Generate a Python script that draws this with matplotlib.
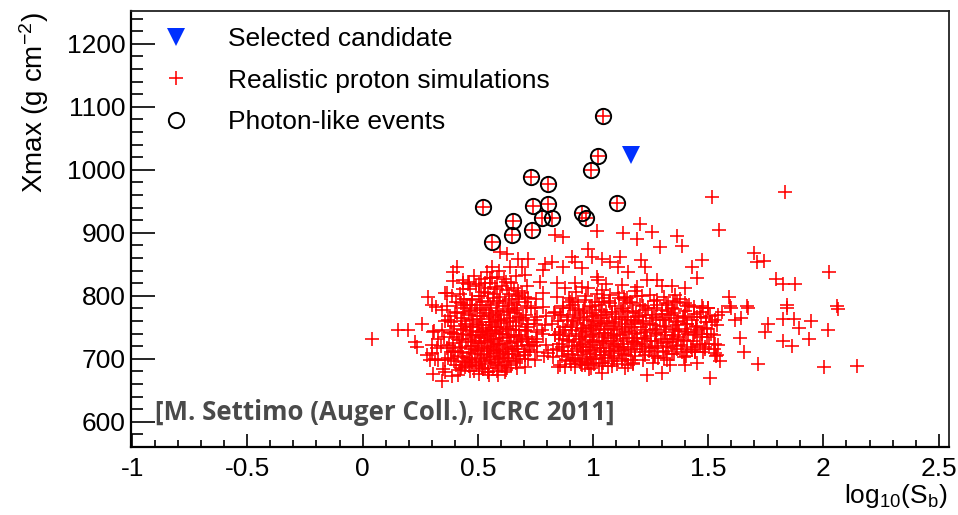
import matplotlib
matplotlib.use("Agg")
import matplotlib.pyplot as plt
from matplotlib.ticker import MultipleLocator

plt.rcParams["font.family"] = ["Liberation Sans", "DejaVu Sans"]
plt.rcParams["mathtext.default"] = "regular"

# Selected candidate event
cand_x = [1.164]
cand_y = [1024]

# Photon-like events (each also a proton simulation)
photon_x = [1.045, 1.023, 0.990, 0.730, 0.805, 0.521, 0.741, 0.806, 1.105,
            0.780, 0.821, 0.951, 0.970, 0.654, 0.649, 0.734, 0.563]
photon_y = [1086, 1022, 1000, 989, 977, 941, 942, 946, 947,
            924, 923, 932, 923, 919, 896, 905, 886]

# Proton simulations: outer / sparse events
sparse_x = [1.516, 1.545, 1.833, 1.698, 1.710, 1.743, 2.025, 1.794, 1.826, 1.876,
            1.590, 1.594, 1.669, 1.843, 2.057, 2.062, 1.840, 1.674, 1.599, 1.558,
            1.616, 1.642, 1.761, 1.746, 1.826, 1.873, 1.894, 1.946, 2.021, 1.638,
            1.826, 1.865, 1.938, 1.656, 1.717, 2.002, 1.537, 1.551, 2.145,
            1.204, 1.131, 1.255, 1.190, 1.016, 1.363, 1.291, 1.388, 1.117, 1.038,
            1.074, 1.208, 1.226, 1.153, 1.110, 1.472, 1.428, 1.450, 1.233, 1.276,
            1.341, 1.399, 1.190, 1.124, 1.298, 1.356, 1.247, 1.190, 1.399, 1.472,
            1.327, 1.276, 1.146, 1.074, 1.038, 1.023,
            0.835, 0.871, 0.980, 0.994, 0.908, 0.922, 0.871, 0.951, 0.792, 0.821,
            0.784, 0.719, 0.676, 0.626, 0.597, 0.640, 0.691, 0.705, 0.770, 0.843,
            0.784, 0.843, 0.922, 0.951, 0.879, 1.016, 0.908, 0.965, 0.561, 0.531,
            0.575,
            0.392, 0.409, 0.437, 0.459, 0.365, 0.283, 0.300, 0.365, 0.437, 0.466,
            0.040, 0.155, 0.199, 0.257, 0.445, 0.228, 0.235, 0.279, 0.300, 0.322,
            0.293, 0.329, 0.358, 0.346, 0.416, 0.307, 0.344, 0.329, 0.372, 0.380,
            0.365, 0.401, 0.372, 0.430, 0.466, 0.445,
            0.748, 0.835, 0.871, 0.922, 0.777, 0.857, 0.871, 0.806, 0.828, 0.849,
            0.879, 0.922, 0.951, 0.980, 0.705, 0.727, 0.712, 0.734, 0.756, 0.669,
            0.618, 0.589, 0.546, 0.517,
            1.233, 1.298, 1.399, 1.450, 1.508, 1.038, 1.334, 1.320, 1.283, 1.153,
            1.139, 1.175, 1.385, 1.428, 1.479, 1.529, 1.529, 1.472, 1.443, 1.399,
            1.370, 1.341, 1.320, 1.276, 1.247, 1.226, 1.190, 1.363, 1.399, 1.312,
            1.276, 1.255, 1.197, 1.464, 1.515, 1.500, 1.341, 1.298]
sparse_y = [956, 905, 965, 868, 854, 855, 838, 827, 818, 819,
            798, 783, 783, 785, 784, 779, 781, 780, 781, 774,
            761, 765, 756, 743, 763, 763, 749, 760, 746, 733,
            728, 721, 732, 711, 692, 687, 706, 696, 688,
            914, 900, 902, 890, 903, 895, 878, 879, 862, 858,
            854, 857, 845, 838, 845, 857, 845, 828, 825, 825,
            815, 812, 814, 817, 815, 801, 801, 799, 789, 783,
            785, 793, 796, 801, 809, 825,
            896, 893, 875, 862, 862, 854, 846, 844, 851, 854,
            841, 859, 859, 867, 870, 846, 846, 833, 822, 820,
            804, 798, 820, 814, 812, 830, 793, 793, 828, 820,
            814,
            838, 845, 825, 818, 804, 798, 785, 783, 785, 785,
            732, 746, 746, 756, 780, 727, 719, 706, 709, 717,
            698, 698, 679, 664, 674, 743, 746, 732, 761, 743,
            717, 711, 701, 690, 698, 687,
            761, 775, 780, 777, 746, 743, 732, 709, 703, 687,
            687, 698, 690, 693, 706, 714, 732, 727, 727, 685,
            679, 674, 679, 685,
            674, 677, 690, 693, 670, 677, 690, 698, 701, 690,
            685, 693, 711, 714, 711, 709, 724, 740, 743, 748,
            735, 732, 727, 717, 719, 732, 724, 754, 764, 761,
            746, 764, 767, 775, 759, 780, 780, 777]

# Proton simulations: low-S_b core
core_a_x = [0.384, 0.373, 0.389, 0.378,
            0.404, 0.393, 0.409, 0.398, 0.406,
            0.424, 0.413, 0.429, 0.418, 0.426, 0.411, 0.421,
            0.444, 0.433, 0.449, 0.438, 0.446, 0.431, 0.441, 0.435,
            0.464, 0.453, 0.469, 0.458, 0.466, 0.451, 0.461, 0.455, 0.468,
            0.484, 0.473, 0.489, 0.478, 0.486, 0.471, 0.481, 0.475, 0.488, 0.477, 0.485,
            0.504, 0.493, 0.509, 0.498, 0.506, 0.491, 0.501, 0.495, 0.508, 0.497, 0.505, 0.492,
            0.524, 0.513, 0.529, 0.518, 0.526, 0.511, 0.521, 0.515, 0.528, 0.517, 0.525, 0.512,
            0.544, 0.533, 0.549, 0.538, 0.546, 0.531, 0.541, 0.535, 0.548, 0.537, 0.545, 0.532, 0.542,
            0.564, 0.553, 0.569, 0.558, 0.566, 0.551, 0.561, 0.555, 0.568, 0.557, 0.565, 0.552, 0.562,
            0.584, 0.573, 0.589, 0.578, 0.586, 0.571, 0.581, 0.575, 0.588, 0.577, 0.585, 0.572, 0.582,
            0.604, 0.593, 0.609, 0.598, 0.606, 0.591, 0.601, 0.595, 0.608, 0.597, 0.605, 0.592,
            0.624, 0.613, 0.629, 0.618, 0.626, 0.611, 0.621, 0.615, 0.628, 0.617, 0.625, 0.612,
            0.644, 0.633, 0.649, 0.638, 0.646, 0.631, 0.641, 0.635, 0.648, 0.637, 0.645,
            0.664, 0.653, 0.669, 0.658, 0.666, 0.651, 0.661, 0.655, 0.668, 0.657,
            0.684, 0.673, 0.689, 0.678, 0.686, 0.671, 0.681, 0.675,
            0.704, 0.693, 0.709, 0.698, 0.706, 0.691,
            0.724, 0.713, 0.729, 0.718]
core_a_y = [700, 722, 741, 768,
            690, 712, 735, 752, 790,
            683, 705, 718, 730, 748, 772, 803,
            695, 710, 726, 739, 756, 765, 795, 820,
            688, 702, 715, 731, 744, 752, 770, 786, 810,
            680, 694, 708, 720, 729, 738, 750, 762, 778, 795, 832,
            676, 690, 700, 713, 725, 734, 742, 755, 768, 781, 800, 815,
            684, 697, 706, 717, 728, 737, 745, 758, 772, 790, 806, 826,
            679, 692, 703, 712, 721, 733, 740, 749, 763, 777, 792, 812, 838,
            686, 698, 709, 719, 727, 736, 746, 754, 766, 780, 797, 820, 845,
            681, 693, 704, 714, 724, 731, 741, 751, 760, 773, 788, 803, 830,
            688, 700, 710, 722, 733, 744, 757, 769, 784, 798, 816, 840,
            683, 695, 707, 716, 728, 739, 750, 763, 776, 791, 809, 826,
            690, 702, 713, 725, 737, 748, 760, 774, 788, 803, 821,
            696, 708, 720, 734, 746, 759, 772, 785, 799, 812,
            700, 716, 731, 745, 762, 778, 795, 808,
            710, 728, 744, 765, 790, 805,
            722, 750, 780, 797]

# Proton simulations: spread from the low core towards log10(S_b) ~ 0.85
core_a2_x = [0.307, 0.316, 0.302, 0.312, 0.317,
             0.347, 0.356, 0.342, 0.352, 0.357, 0.345, 0.359,
             0.387, 0.396, 0.382, 0.392, 0.397, 0.385, 0.399, 0.389, 0.394,
             0.427, 0.436, 0.422, 0.432, 0.437, 0.425, 0.439, 0.429, 0.434,
             0.467, 0.476, 0.462, 0.472, 0.477, 0.465, 0.479, 0.469, 0.474, 0.464,
             0.507, 0.516, 0.502, 0.512, 0.517, 0.505, 0.519, 0.509, 0.514, 0.504,
             0.547, 0.556, 0.542, 0.552, 0.557, 0.545, 0.559, 0.549, 0.554, 0.544, 0.553,
             0.587, 0.596, 0.582, 0.592, 0.597, 0.585, 0.599, 0.589, 0.594, 0.584,
             0.627, 0.636, 0.622, 0.632, 0.637, 0.625, 0.639, 0.629, 0.634, 0.624,
             0.667, 0.676, 0.662, 0.672, 0.677, 0.665, 0.679, 0.669, 0.674, 0.664,
             0.707, 0.716, 0.702, 0.712, 0.717, 0.705, 0.719, 0.709, 0.714, 0.704, 0.713,
             0.747, 0.756, 0.742, 0.752, 0.757, 0.745, 0.759, 0.749, 0.754,
             0.787, 0.796, 0.782, 0.792, 0.797, 0.785,
             0.827, 0.836, 0.822, 0.832]
core_a2_y = [676, 700, 722, 744, 782,
             684, 698, 720, 735, 760, 778, 805,
             672, 696, 711, 725, 740, 758, 775, 800, 823,
             686, 703, 717, 732, 746, 760, 772, 789, 810,
             681, 695, 709, 721, 738, 751, 763, 776, 794, 822,
             689, 702, 714, 725, 742, 754, 768, 785, 800, 818,
             674, 695, 707, 716, 730, 744, 758, 770, 786, 805, 829,
             690, 701, 712, 723, 739, 750, 762, 776, 792, 811,
             685, 697, 708, 719, 735, 747, 765, 779, 795, 822,
             693, 705, 716, 726, 738, 752, 766, 780, 802, 832,
             687, 700, 711, 722, 734, 745, 756, 770, 784, 798, 815,
             698, 710, 721, 731, 742, 755, 767, 781, 795,
             704, 722, 740, 753, 768, 782,
             714, 737, 756, 772]

# Proton simulations: central core around log10(S_b) ~ 1
core_b_x = [0.844, 0.833, 0.849,
            0.864, 0.853, 0.869, 0.858,
            0.884, 0.873, 0.889, 0.878, 0.886, 0.871,
            0.904, 0.893, 0.909, 0.898, 0.906, 0.891, 0.901, 0.895,
            0.924, 0.913, 0.929, 0.918, 0.926, 0.911, 0.921, 0.915, 0.928,
            0.944, 0.933, 0.949, 0.938, 0.946, 0.931, 0.941, 0.935,
            0.964, 0.953, 0.969, 0.958, 0.966, 0.951, 0.961, 0.955, 0.968,
            0.984, 0.973, 0.989, 0.978, 0.986, 0.971, 0.981, 0.975, 0.988, 0.977,
            1.004, 0.993, 1.009, 0.998, 1.006, 0.991, 1.001, 0.995, 1.008,
            1.024, 1.013, 1.029, 1.018, 1.026, 1.011, 1.021, 1.015, 1.028, 1.017,
            1.044, 1.033, 1.049, 1.038, 1.046, 1.031, 1.041, 1.035, 1.048,
            1.064, 1.053, 1.069, 1.058, 1.066, 1.051, 1.061, 1.055, 1.068, 1.057,
            1.084, 1.073, 1.089, 1.078, 1.086, 1.071, 1.081, 1.075,
            1.104, 1.093, 1.109, 1.098, 1.106, 1.091, 1.101, 1.095, 1.108,
            1.124, 1.113, 1.129, 1.118, 1.126, 1.111, 1.121, 1.115,
            1.144, 1.133, 1.149, 1.138, 1.146, 1.131, 1.141,
            1.164, 1.153, 1.169, 1.158, 1.166, 1.151, 1.161,
            1.184, 1.173, 1.189, 1.178, 1.186, 1.171, 1.181,
            1.204, 1.193, 1.209, 1.198, 1.206,
            1.224, 1.213, 1.229, 1.218, 1.226, 1.211]
core_b_y = [716, 738, 760,
            704, 724, 751, 770,
            698, 712, 730, 746, 762, 784,
            692, 708, 720, 736, 750, 766, 781, 797,
            687, 702, 715, 727, 740, 754, 770, 786, 806,
            695, 706, 718, 731, 744, 757, 773, 790,
            690, 700, 712, 723, 735, 748, 761, 776, 800,
            684, 697, 708, 719, 730, 742, 753, 767, 782, 812,
            692, 703, 714, 726, 738, 749, 760, 772, 790,
            688, 699, 711, 722, 734, 745, 757, 769, 785, 803,
            694, 706, 717, 729, 741, 752, 764, 778, 796,
            689, 701, 713, 725, 737, 748, 760, 774, 792, 818,
            697, 709, 721, 733, 745, 757, 771, 789,
            692, 704, 716, 728, 740, 752, 766, 783, 805,
            700, 712, 724, 737, 750, 763, 779, 797,
            706, 719, 733, 747, 761, 776, 793,
            698, 714, 729, 744, 758, 774, 790,
            710, 726, 741, 756, 772, 788, 808,
            716, 733, 750, 768, 785,
            706, 724, 742, 760, 778, 800]

# Proton simulations: spread from the central core to log10(S_b) ~ 1.55
core_b2_x = [0.857, 0.866, 0.852, 0.862,
             0.902, 0.911, 0.897, 0.907, 0.912, 0.900,
             0.947, 0.956, 0.942, 0.952, 0.957, 0.945, 0.959,
             0.992, 1.001, 0.987, 0.997, 1.002, 0.990, 1.004, 0.994,
             1.037, 1.046, 1.032, 1.042, 1.047, 1.035, 1.049, 1.039,
             1.082, 1.091, 1.077, 1.087, 1.092, 1.080, 1.094, 1.084,
             1.127, 1.136, 1.122, 1.132, 1.137, 1.125, 1.139, 1.129, 1.134,
             1.172, 1.181, 1.167, 1.177, 1.182, 1.170, 1.184, 1.174,
             1.217, 1.226, 1.212, 1.222, 1.227, 1.215, 1.229, 1.219,
             1.262, 1.271, 1.257, 1.267, 1.272, 1.260, 1.274, 1.264,
             1.307, 1.316, 1.302, 1.312, 1.317, 1.305, 1.319,
             1.352, 1.361, 1.347, 1.357, 1.362, 1.350, 1.364,
             1.397, 1.406, 1.392, 1.402, 1.407, 1.395, 1.409,
             1.442, 1.451, 1.437, 1.447, 1.452, 1.440,
             1.487, 1.496, 1.482, 1.492, 1.497,
             1.532, 1.541, 1.527, 1.537, 1.542]
core_b2_y = [690, 718, 740, 770,
             696, 713, 728, 745, 760, 790,
             692, 710, 722, 736, 749, 764, 779,
             686, 699, 714, 727, 740, 752, 768, 784,
             694, 706, 717, 729, 741, 755, 770, 790,
             689, 701, 713, 724, 736, 747, 758, 775,
             697, 708, 719, 731, 743, 755, 766, 780, 798,
             692, 704, 716, 727, 739, 750, 762, 776,
             698, 710, 721, 733, 746, 757, 769, 784,
             693, 705, 717, 729, 741, 753, 766, 780,
             701, 713, 725, 737, 750, 762, 776,
             708, 720, 732, 745, 758, 772, 790,
             703, 716, 729, 742, 755, 768, 784,
             711, 724, 738, 752, 766, 782,
             719, 734, 749, 764, 780,
             704, 722, 738, 753, 770]

# Proton simulations: high-S_b shoulder
core_c_x = [1.244, 1.233, 1.249, 1.238,
            1.264, 1.253, 1.269, 1.258, 1.266,
            1.284, 1.273, 1.289, 1.278,
            1.304, 1.293, 1.309, 1.298, 1.306,
            1.324, 1.313, 1.329, 1.318,
            1.344, 1.333, 1.349, 1.338, 1.346,
            1.364, 1.353, 1.369, 1.358,
            1.384, 1.373, 1.389, 1.378,
            1.404, 1.393, 1.409, 1.398,
            1.424, 1.413, 1.429, 1.418,
            1.444, 1.433, 1.449, 1.438,
            1.464, 1.453, 1.469,
            1.484, 1.473, 1.489, 1.478,
            1.504, 1.493, 1.509,
            1.524, 1.513, 1.529]
core_c_y = [712, 736, 756, 781,
            705, 728, 748, 770, 792,
            720, 740, 762, 785,
            710, 732, 752, 771, 798,
            718, 742, 765, 789,
            708, 726, 748, 769, 792,
            715, 738, 760, 779,
            722, 744, 767, 795,
            704, 730, 755, 776,
            718, 740, 762, 786,
            710, 728, 750, 771,
            722, 746, 766,
            716, 735, 758, 780,
            724, 748, 768,
            715, 740, 762]

proton_x = (sparse_x + core_a_x + core_a2_x + core_b_x + core_b2_x
            + core_c_x + photon_x)
proton_y = (sparse_y + core_a_y + core_a2_y + core_b_y + core_b2_y
            + core_c_y + photon_y)

x_ticks = [-1, -0.5, 0, 0.5, 1, 1.5, 2, 2.5]
x_tick_labels = ["-1", "-0.5", "0", "0.5", "1", "1.5", "2", "2.5"]
y_ticks = [600, 700, 800, 900, 1000, 1100, 1200]

W, H = 958, 515
fig = plt.figure(figsize=(W / 100, H / 100), dpi=100)
ax = fig.add_axes([131 / W, 1 - 447 / H, (949 - 131) / W, (447 - 11) / H])

red = "#ff0000"
blue = "#0030ff"

h_proton, = ax.plot(proton_x, proton_y, linestyle="none", marker="+",
                    markersize=10.5, markeredgewidth=1.15, color=red)
h_photon, = ax.plot(photon_x, photon_y, linestyle="none", marker="o",
                    markersize=11, markerfacecolor="none",
                    markeredgecolor="black", markeredgewidth=1.4)
h_cand, = ax.plot(cand_x, cand_y, linestyle="none", marker="v",
                  markersize=13, color=blue, markeredgewidth=0)

ax.set_xlim(-1.005, 2.545)
ax.set_ylim(560, 1252)
ax.set_xticks(x_ticks)
ax.set_xticklabels(x_tick_labels)
ax.set_yticks(y_ticks)
ax.xaxis.set_minor_locator(MultipleLocator(0.1))
ax.yaxis.set_minor_locator(MultipleLocator(20))

ax.tick_params(axis="y", which="major", direction="in", length=17, width=1.2,
               labelsize=19, pad=4)
ax.tick_params(axis="y", which="minor", direction="in", length=8.5, width=1.2)
ax.tick_params(axis="x", which="major", direction="in", length=9.5, width=1.2,
               labelsize=19, pad=7)
ax.tick_params(axis="x", which="minor", direction="in", length=4.7, width=1.2)
ax.tick_params(top=False, right=False, which="both")
for side in ["left", "bottom"]:
    ax.spines[side].set_linewidth(1.6)
for side in ["top", "right"]:
    ax.spines[side].set_linewidth(1.3)
    ax.spines[side].set_color("#222222")

fig.text(34 / W, 1 - 103 / H, r"Xmax (g cm$^{-2}$)", rotation=90,
         ha="center", va="center", fontsize=20)
fig.text(948 / W, 1 - 503 / H, r"log$_{10}$(S$_{b}$)", ha="right",
         va="baseline", fontsize=19)

fig.text(155 / W, 1 - 412 / H, "[M. Settimo (Auger Coll.), ICRC 2011]",
         ha="left", va="center", fontsize=18.6, fontweight="bold",
         family=["Open Sans", "DejaVu Sans"], color="#4a4a4a")

ax.legend([h_cand, h_proton, h_photon],
          ["Selected candidate", "Realistic proton simulations",
           "Photon-like events"],
          loc="upper left", bbox_to_anchor=(163 / W, 1 - 27 / H),
          bbox_transform=fig.transFigure, frameon=False, fontsize=19,
          handlelength=1.0, handletextpad=1.47, labelspacing=0.67,
          borderpad=0, borderaxespad=0, numpoints=1)

fig.savefig("out.png", dpi=100)
